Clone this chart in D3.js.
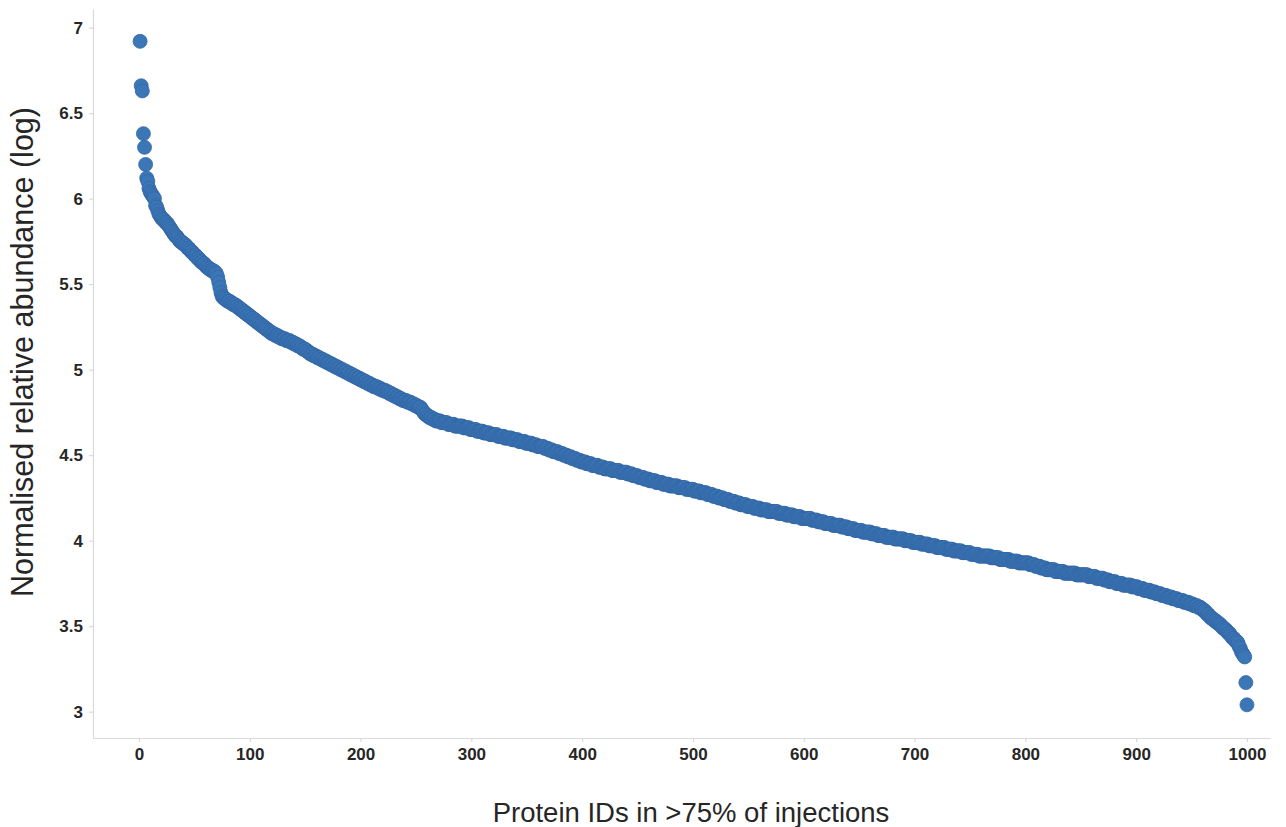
<!DOCTYPE html>
<meta charset="utf-8">
<html>
<head>
  <title>Protein abundance rank plot</title>
  <style>
    body {
      margin: 0;
      background: #ffffff;
    }
    svg {
      display: block;
      width: 1286px;
      height: 827px;
      font-family: "Liberation Sans", Arial, sans-serif;
    }
    .axis path, .axis line {
      stroke: #d9d9d9;
      stroke-width: 1.2px;
    }
    .axis text {
      font-size: 17px;
      font-weight: bold;
      fill: #262626;
    }
    .axislabel {
      fill: #262626;
      text-anchor: middle;
    }
    .dot {
      fill: #3b77b7;
      stroke: #3467a6;
      stroke-width: 0.8px;
    }
  </style>
  <script src="https://d3js.org/d3.v7.min.js"></script>
</head>
<body>

  <svg></svg>

  <script>

    // normalised relative abundance (log), one value per protein, rank 1..1000
    var abundance = [
      // 1-100
      6.92,6.66,6.63,6.38,6.30,6.20,6.12,6.10,6.06,6.04,6.03,6.02,6.01,6.00,5.96,5.95,5.93,5.91,5.90,5.89,
      5.88,5.88,5.87,5.86,5.86,5.85,5.84,5.83,5.82,5.81,5.80,5.79,5.78,5.78,5.77,5.76,5.75,5.75,5.74,5.74,
      5.73,5.73,5.72,5.71,5.71,5.70,5.69,5.69,5.68,5.67,5.67,5.66,5.65,5.65,5.64,5.63,5.63,5.62,5.62,5.61,
      5.60,5.60,5.59,5.59,5.58,5.58,5.58,5.57,5.57,5.56,5.54,5.51,5.48,5.45,5.43,5.42,5.42,5.41,5.41,5.40,
      5.40,5.40,5.39,5.39,5.38,5.38,5.38,5.37,5.37,5.36,5.36,5.35,5.35,5.34,5.34,5.33,5.33,5.32,5.32,5.31,
      // 101-200
      5.31,5.30,5.30,5.29,5.29,5.28,5.28,5.27,5.27,5.26,5.26,5.25,5.25,5.24,5.24,5.23,5.23,5.22,5.22,5.21,
      5.21,5.21,5.20,5.20,5.20,5.19,5.19,5.19,5.18,5.18,5.18,5.18,5.17,5.17,5.17,5.17,5.16,5.16,5.16,5.15,
      5.15,5.15,5.14,5.14,5.14,5.13,5.13,5.12,5.12,5.12,5.11,5.11,5.10,5.10,5.09,5.09,5.09,5.08,5.08,5.08,
      5.07,5.07,5.07,5.06,5.06,5.06,5.05,5.05,5.05,5.04,5.04,5.04,5.03,5.03,5.03,5.02,5.02,5.02,5.01,5.01,
      5.01,5.00,5.00,5.00,4.99,4.99,4.99,4.98,4.98,4.98,4.97,4.97,4.97,4.96,4.96,4.96,4.95,4.95,4.95,4.94,
      // 201-300
      4.94,4.94,4.93,4.93,4.93,4.92,4.92,4.92,4.91,4.91,4.91,4.90,4.90,4.90,4.90,4.89,4.89,4.89,4.88,4.88,
      4.88,4.88,4.87,4.87,4.87,4.86,4.86,4.86,4.85,4.85,4.85,4.84,4.84,4.84,4.83,4.83,4.83,4.82,4.82,4.82,
      4.82,4.81,4.81,4.81,4.81,4.80,4.80,4.80,4.79,4.79,4.79,4.78,4.78,4.78,4.77,4.76,4.75,4.74,4.74,4.73,
      4.73,4.72,4.72,4.72,4.71,4.71,4.71,4.70,4.70,4.70,4.70,4.70,4.69,4.69,4.69,4.69,4.69,4.69,4.68,4.68,
      4.68,4.68,4.68,4.68,4.67,4.67,4.67,4.67,4.67,4.67,4.67,4.67,4.66,4.66,4.66,4.66,4.66,4.66,4.65,4.65,
      // 301-400
      4.65,4.65,4.65,4.65,4.64,4.64,4.64,4.64,4.64,4.64,4.63,4.63,4.63,4.63,4.63,4.63,4.62,4.62,4.62,4.62,
      4.62,4.62,4.62,4.61,4.61,4.61,4.61,4.61,4.61,4.60,4.60,4.60,4.60,4.60,4.60,4.60,4.59,4.59,4.59,4.59,
      4.59,4.59,4.58,4.58,4.58,4.58,4.58,4.58,4.57,4.57,4.57,4.57,4.57,4.57,4.56,4.56,4.56,4.56,4.56,4.55,
      4.55,4.55,4.55,4.55,4.55,4.54,4.54,4.54,4.54,4.53,4.53,4.53,4.53,4.52,4.52,4.52,4.52,4.52,4.51,4.51,
      4.51,4.51,4.50,4.50,4.50,4.50,4.49,4.49,4.49,4.49,4.48,4.48,4.48,4.48,4.47,4.47,4.47,4.47,4.46,4.46,
      // 401-500
      4.46,4.46,4.46,4.45,4.45,4.45,4.45,4.45,4.44,4.44,4.44,4.44,4.44,4.44,4.43,4.43,4.43,4.43,4.43,4.42,
      4.42,4.42,4.42,4.42,4.42,4.42,4.41,4.41,4.41,4.41,4.41,4.41,4.41,4.40,4.40,4.40,4.40,4.40,4.40,4.40,
      4.39,4.39,4.39,4.39,4.39,4.38,4.38,4.38,4.38,4.38,4.37,4.37,4.37,4.37,4.37,4.36,4.36,4.36,4.36,4.36,
      4.35,4.35,4.35,4.35,4.35,4.35,4.34,4.34,4.34,4.34,4.34,4.34,4.33,4.33,4.33,4.33,4.33,4.33,4.32,4.32,
      4.32,4.32,4.32,4.32,4.32,4.32,4.31,4.31,4.31,4.31,4.31,4.31,4.31,4.30,4.30,4.30,4.30,4.30,4.30,4.30,
      // 501-600
      4.29,4.29,4.29,4.29,4.29,4.29,4.28,4.28,4.28,4.28,4.28,4.28,4.27,4.27,4.27,4.27,4.27,4.26,4.26,4.26,
      4.26,4.26,4.25,4.25,4.25,4.25,4.25,4.24,4.24,4.24,4.24,4.24,4.23,4.23,4.23,4.23,4.23,4.22,4.22,4.22,
      4.22,4.22,4.21,4.21,4.21,4.21,4.21,4.21,4.20,4.20,4.20,4.20,4.20,4.20,4.19,4.19,4.19,4.19,4.19,4.19,
      4.18,4.18,4.18,4.18,4.18,4.18,4.18,4.17,4.17,4.17,4.17,4.17,4.17,4.17,4.17,4.17,4.16,4.16,4.16,4.16,
      4.16,4.16,4.16,4.15,4.15,4.15,4.15,4.15,4.15,4.15,4.14,4.14,4.14,4.14,4.14,4.14,4.14,4.13,4.13,4.13,
      // 601-700
      4.13,4.13,4.13,4.13,4.13,4.13,4.12,4.12,4.12,4.12,4.12,4.12,4.11,4.11,4.11,4.11,4.11,4.11,4.10,4.10,
      4.10,4.10,4.10,4.10,4.10,4.09,4.09,4.09,4.09,4.09,4.09,4.09,4.09,4.08,4.08,4.08,4.08,4.08,4.08,4.07,
      4.07,4.07,4.07,4.07,4.07,4.06,4.06,4.06,4.06,4.06,4.06,4.06,4.05,4.05,4.05,4.05,4.05,4.05,4.05,4.05,
      4.04,4.04,4.04,4.04,4.04,4.04,4.03,4.03,4.03,4.03,4.03,4.03,4.03,4.02,4.02,4.02,4.02,4.02,4.02,4.02,
      4.02,4.01,4.01,4.01,4.01,4.01,4.01,4.01,4.01,4.01,4.00,4.00,4.00,4.00,4.00,4.00,4.00,3.99,3.99,3.99,
      // 701-800
      3.99,3.99,3.99,3.99,3.99,3.98,3.98,3.98,3.98,3.98,3.98,3.98,3.97,3.97,3.97,3.97,3.97,3.97,3.97,3.96,
      3.96,3.96,3.96,3.96,3.96,3.96,3.96,3.95,3.95,3.95,3.95,3.95,3.95,3.95,3.94,3.94,3.94,3.94,3.94,3.94,
      3.94,3.94,3.93,3.93,3.93,3.93,3.93,3.93,3.93,3.93,3.92,3.92,3.92,3.92,3.92,3.92,3.92,3.91,3.91,3.91,
      3.91,3.91,3.91,3.91,3.91,3.91,3.91,3.91,3.90,3.90,3.90,3.90,3.90,3.90,3.90,3.90,3.89,3.89,3.89,3.89,
      3.89,3.89,3.89,3.89,3.89,3.88,3.88,3.88,3.88,3.88,3.88,3.88,3.88,3.87,3.87,3.87,3.87,3.87,3.87,3.87,
      // 801-900
      3.87,3.87,3.87,3.86,3.86,3.86,3.86,3.86,3.85,3.85,3.85,3.85,3.85,3.84,3.84,3.84,3.84,3.84,3.83,3.83,
      3.83,3.83,3.83,3.83,3.83,3.83,3.82,3.82,3.82,3.82,3.82,3.82,3.82,3.82,3.81,3.81,3.81,3.81,3.81,3.81,
      3.81,3.81,3.81,3.81,3.81,3.80,3.80,3.80,3.80,3.80,3.80,3.80,3.80,3.80,3.80,3.80,3.79,3.79,3.79,3.79,
      3.79,3.79,3.79,3.78,3.78,3.78,3.78,3.78,3.78,3.78,3.77,3.77,3.77,3.77,3.77,3.76,3.76,3.76,3.76,3.76,
      3.76,3.75,3.75,3.75,3.75,3.75,3.75,3.74,3.74,3.74,3.74,3.74,3.74,3.74,3.74,3.73,3.73,3.73,3.73,3.73,
      // 901-1000
      3.73,3.72,3.72,3.72,3.72,3.72,3.71,3.71,3.71,3.71,3.71,3.71,3.70,3.70,3.70,3.70,3.70,3.69,3.69,3.69,
      3.69,3.69,3.68,3.68,3.68,3.68,3.68,3.67,3.67,3.67,3.67,3.67,3.66,3.66,3.66,3.66,3.66,3.65,3.65,3.65,
      3.65,3.65,3.64,3.64,3.64,3.64,3.64,3.63,3.63,3.63,3.63,3.62,3.62,3.62,3.62,3.61,3.61,3.61,3.60,3.60,
      3.59,3.59,3.58,3.57,3.57,3.56,3.55,3.55,3.54,3.54,3.53,3.53,3.52,3.52,3.51,3.51,3.50,3.49,3.49,3.48,
      3.48,3.47,3.46,3.46,3.45,3.44,3.43,3.43,3.42,3.41,3.41,3.40,3.38,3.37,3.35,3.34,3.33,3.32,3.17,3.04
    ];

    // tick values and their labels
    var xTicks = [0, 100, 200, 300, 400, 500, 600, 700, 800, 900, 1000];
    var yTicks = [3, 3.5, 4, 4.5, 5, 5.5, 6, 6.5, 7];
    var yTickLabels = ["3", "3.5", "4", "4.5", "5", "5.5", "6", "6.5", "7"];

    var xTitle = "Protein IDs in >75% of injections";
    var yTitle = "Normalised relative abundance (log)";

    var svg = d3.select("svg");

    var cssWidth = parseInt(svg.style("width"));
    var cssHeight = parseInt(svg.style("height"));

    var margin = {top: 9, right: 16, bottom: 89, left: 93};
    var width = cssWidth - margin.left - margin.right;
    var height = cssHeight - margin.top - margin.bottom;

    // axes leave some room past the first and last protein
    var x = d3.scaleLinear().domain([-41.5, 1020.8]).range([0, width]);
    var y = d3.scaleLinear().domain([2.846, 7.109]).range([height, 0]);

    var g = svg.append("g")
      .attr("transform", "translate(" + margin.left + "," + margin.top + ")");

    // x axis
    g.append("g")
      .attr("class", "axis")
      .attr("transform", "translate(0," + height + ")")
      .call(d3.axisBottom(x)
        .tickValues(xTicks)
        .tickFormat(d3.format("d"))
        .tickSizeInner(4)
        .tickSizeOuter(0)
        .tickPadding(6));

    // y axis
    g.append("g")
      .attr("class", "axis")
      .call(d3.axisLeft(y)
        .tickValues(yTicks)
        .tickFormat(function(d, i) { return yTickLabels[i]; })
        .tickSizeInner(4)
        .tickSizeOuter(0)
        .tickPadding(6));

    g.selectAll(".axis text").attr("font-family", null).attr("font-size", null);

    // x axis title
    svg.append("text")
      .attr("class", "axislabel")
      .attr("x", 691)
      .attr("y", 822)
      .style("font-size", "27.5px")
      .text(xTitle);

    // y axis title
    svg.append("text")
      .attr("class", "axislabel")
      .attr("transform", "translate(33,352) rotate(-90)")
      .style("font-size", "30.5px")
      .text(yTitle);

    // one dot per protein, ranked by abundance
    g.selectAll(".dot")
      .data(abundance)
      .enter().append("circle")
        .attr("class", "dot")
        .attr("cx", function(d, i) { return x(i + 1); })
        .attr("cy", function(d) { return y(d); })
        .attr("r", 7);

  </script>

</body>
</html>
